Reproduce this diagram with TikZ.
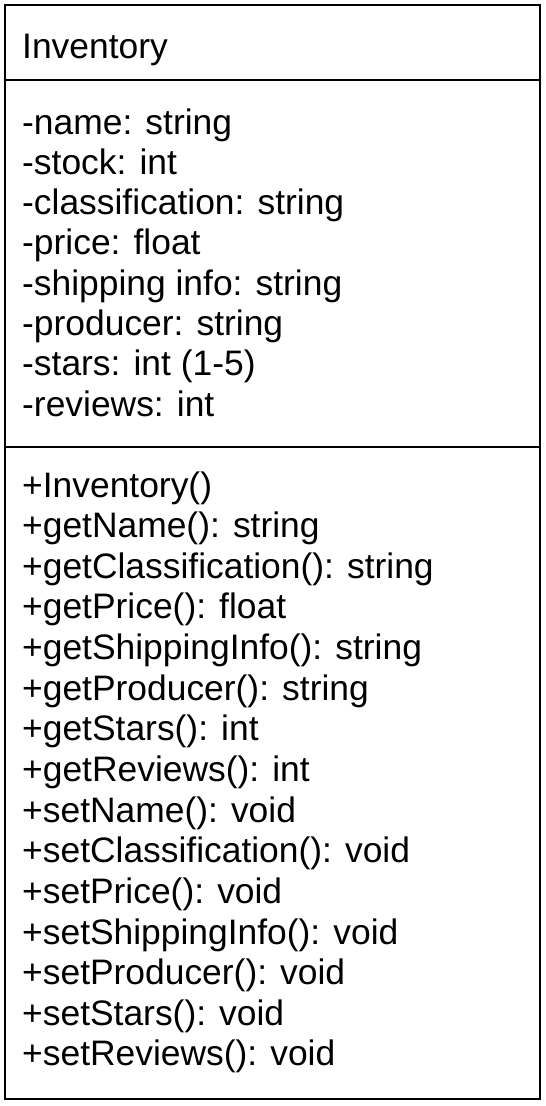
\documentclass[tikz,border=0pt]{standalone}
\usepackage{fontspec}
\setmainfont{Liberation Sans}
\begin{document}
\begin{tikzpicture}[x=1pt,y=-1pt,
  umltext/.style={anchor=base west,inner sep=0pt,font=\fontsize{35.4}{40}\selectfont},
  umlline/.style={line width=2.2pt,draw=black}]
\useasboundingbox (0,0) rectangle (546,1106);
\fill[white] (0,0) rectangle (546,1106);
\draw[umlline] (5,5) rectangle (540,1099);
\draw[umlline] (5,80) -- (540,80);
\draw[umlline] (5,447) -- (540,447);
\node[umltext] (title) at (22,58) {Inventory};
\foreach \t [count=\i from 0] in {
  {-name: string},{-stock: int},{-classification: string},{-price: float},
  {-shipping info: string},{-producer: string},{-stars: int (1-5)},{-reviews: int}}
  \node[umltext] (a\i) at (22,134+\i*40.3) {\t};
\foreach \t [count=\i from 0] in {
  {+Inventory()},{+getName(): string},{+getClassification(): string},{+getPrice(): float},
  {+getShippingInfo(): string},{+getProducer(): string},{+getStars(): int},{+getReviews(): int},
  {+setName(): void},{+setClassification(): void},{+setPrice(): void},{+setShippingInfo(): void},
  {+setProducer(): void},{+setStars(): void},{+setReviews(): void}}
  \node[umltext] (m\i) at (22,497+\i*40.64) {\t};
\end{tikzpicture}
\end{document}
